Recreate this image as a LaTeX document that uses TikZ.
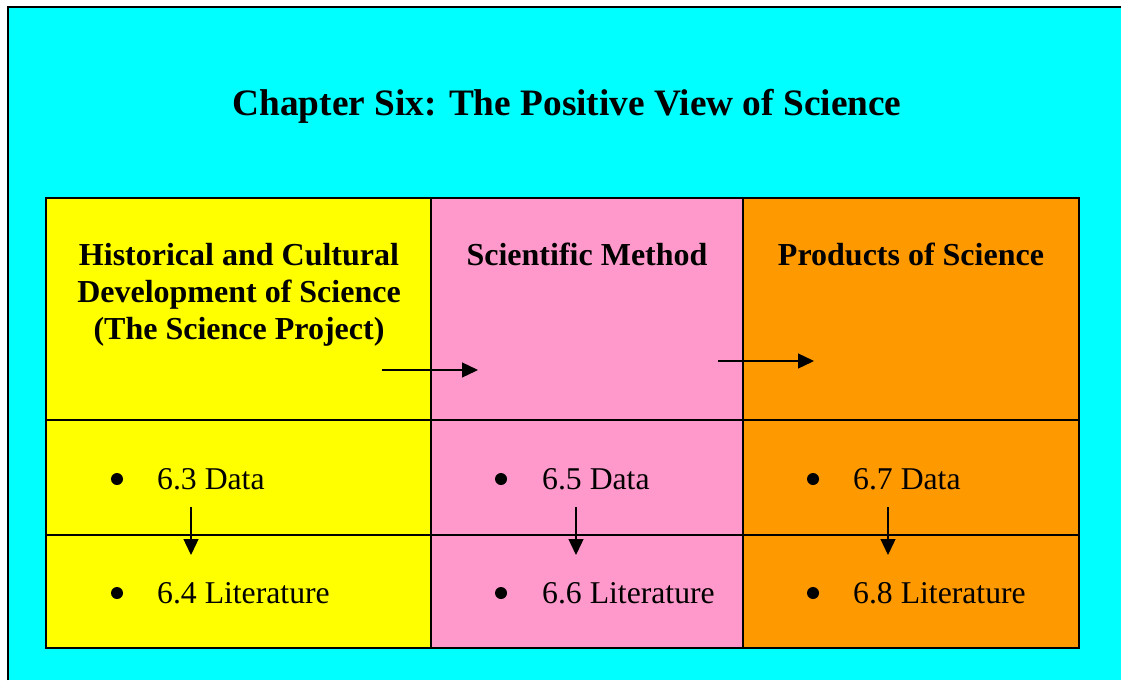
\documentclass[tikz,border=0pt]{standalone}
\usepackage{fontspec}
\setmainfont{Liberation Serif}
\usetikzlibrary{arrows.meta}

\definecolor{pagecyan}{HTML}{00FFFF}
\definecolor{histyellow}{HTML}{FFFF00}
\definecolor{methpink}{HTML}{FF99CC}
\definecolor{prodorange}{HTML}{FF9900}

\tikzset{
  head/.style={anchor=base, inner sep=0, font=\fontsize{32}{38}\selectfont\bfseries},
  item/.style={anchor=base west, inner sep=0, font=\fontsize{31.7}{37}\selectfont},
  bullet/.style={circle, fill=black, minimum size=12pt, inner sep=0},
  flow/.style={line width=1.3pt, -{Triangle[length=16pt,width=15pt]}},
  grid/.style={line width=2pt}
}

\begin{document}
\begin{tikzpicture}[x=1pt,y=-1pt]
    \useasboundingbox (0,0) rectangle (1121,680);
    \fill[white] (0,0) rectangle (1121,680);
    \fill[pagecyan] (8,7) rectangle (1121,680);
    \draw[line width=2.2pt] (8,680) -- (8,7) -- (1121,7);

    \node (title) at (567,115) [anchor=base, inner sep=0,
      font=\fontsize{37.3}{44}\selectfont\bfseries] {Chapter Six: The Positive View of Science};

    % the three columns
    \fill[histyellow] (46,198) rectangle (431,648);
    \fill[methpink] (431,198) rectangle (743,648);
    \fill[prodorange] (743,198) rectangle (1079,648);

    \draw[grid] (46,198) rectangle (1079,648);
    \draw[grid] (431,198) -- (431,648);
    \draw[grid] (743,198) -- (743,648);
    \draw[grid] (46,420) -- (1079,420);
    \draw[grid] (46,535) -- (1079,535);

    \node (hist1) at (239,265) [head] {Historical and Cultural};
    \node (hist2) at (239,302) [head] {Development of Science};
    \node (hist3) at (239,339) [head] {(The Science Project)};
    \node (meth) at (587,265) [head] {Scientific Method};
    \node (prod) at (911,265) [head] {Products of Science};

    \node (b63) at (117,479) [bullet] {};
    \node (b64) at (117,593) [bullet] {};
    \node (b65) at (501,479) [bullet] {};
    \node (b66) at (501,593) [bullet] {};
    \node (b67) at (813,479) [bullet] {};
    \node (b68) at (813,593) [bullet] {};

    \node (s63) at (157,489) [item] {6.3 Data};
    \node (s64) at (157,603) [item] {6.4 Literature};
    \node (s65) at (542,489) [item] {6.5 Data};
    \node (s66) at (542,603) [item] {6.6 Literature};
    \node (s67) at (853,489) [item] {6.7 Data};
    \node (s68) at (853,603) [item] {6.8 Literature};

    % arrow ends
    \coordinate (h1) at (382,370);
    \coordinate (h2) at (478,370);
    \coordinate (h3) at (718,361);
    \coordinate (h4) at (814,361);
    \coordinate (d1) at (191,507);
    \coordinate (l1) at (191,555);
    \coordinate (d2) at (576,507);
    \coordinate (l2) at (576,555);
    \coordinate (d3) at (888,507);
    \coordinate (l3) at (888,555);

    \draw[flow] (h1) -- (h2);
    \draw[flow] (h3) -- (h4);
    \draw[flow] (d1) -- (l1);
    \draw[flow] (d2) -- (l2);
    \draw[flow] (d3) -- (l3);
\end{tikzpicture}
\end{document}
